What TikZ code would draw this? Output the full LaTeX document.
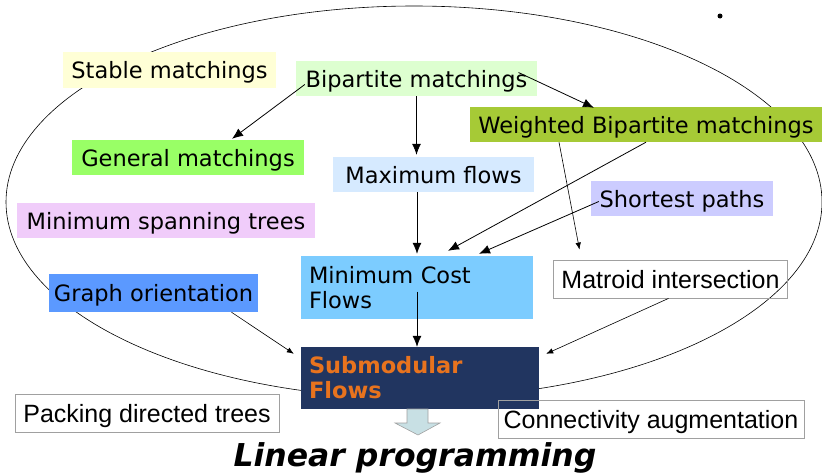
\documentclass[tikz,border=0pt]{standalone}
\usepackage{fontspec}
\setmainfont{DejaVu Sans}
\newfontfamily\arialfont{Liberation Sans}
\usetikzlibrary{arrows.meta}

\definecolor{stablecol}{RGB}{255,255,214}
\definecolor{bipcol}{RGB}{221,255,208}
\definecolor{wbipcol}{RGB}{166,202,54}
\definecolor{gencol}{RGB}{153,255,102}
\definecolor{maxfcol}{RGB}{214,234,255}
\definecolor{shortcol}{RGB}{204,204,255}
\definecolor{mstcol}{RGB}{240,204,250}
\definecolor{mincostcol}{RGB}{124,204,255}
\definecolor{orientcol}{RGB}{91,153,255}
\definecolor{submodcol}{RGB}{33,53,96}
\definecolor{submodtext}{RGB}{232,115,30}
\definecolor{framegray}{RGB}{160,160,160}
\definecolor{lparrowcol}{RGB}{200,224,228}

\begin{document}
\begin{tikzpicture}[x=1pt,y=-1pt,
		twoline/.style={inner sep=0pt, font=\fontsize{22.5}{27}\selectfont},
		box/.style={twoline, text depth=0pt},
		plainbox/.style={inner sep=0pt, text depth=0pt, draw=framegray, line width=0.8pt, font=\arialfont\fontsize{25}{30}\selectfont},
		big/.style={-{Latex[length=11pt,width=9pt]}, line width=0.8pt},
		small/.style={-{Latex[length=7pt,width=5.5pt]}, line width=0.6pt}]
		
		\useasboundingbox (0,0) rectangle (822,472);
		
		% Draw big ellipse
		\draw[line width=0.6pt] (414,202) ellipse [x radius=408, y radius=196];
		\fill (720,16) circle (2.5pt);
		
		% Matching problems
		\node[box, fill=stablecol, minimum width=213pt, minimum height=36pt] (stable) at (169.5,70) {Stable matchings};
		\node[box, fill=bipcol, minimum width=241pt, minimum height=35pt] (bip) at (416.5,78.5) {Bipartite matchings};
		\node[box, fill=wbipcol, minimum width=352pt, minimum height=35pt] (wbip) at (646,124.5) {Weighted Bipartite matchings};
		\node[box, fill=gencol, minimum width=232pt, minimum height=35pt] (gen) at (188,157.5) {General matchings};
		
		% Flow and path problems
		\node[box, fill=maxfcol, minimum width=201pt, minimum height=35pt] (maxf) at (433.5,174.5) {Maximum flows};
		\node[box, fill=shortcol, minimum width=182pt, minimum height=35pt] (short) at (682,198.5) {Shortest paths};
		\node[box, fill=mstcol, minimum width=298pt, minimum height=35pt] (mst) at (166,220.5) {Minimum spanning trees};
		\node[twoline, fill=mincostcol, minimum width=232pt, minimum height=63pt, text width=216pt, align=left, inner xsep=8pt] (mincost) at (417,287.5) {Minimum Cost\\[-2pt]Flows};
		\node[plainbox, minimum width=234pt, minimum height=38pt] (matroid) at (670.5,279) {Matroid intersection};
		\node[box, fill=orientcol, minimum width=209pt, minimum height=38pt] (orient) at (153.5,293) {Graph orientation};
		
		% Submodular flows
		\node[twoline, fill=submodcol, text=submodtext, font=\bfseries\fontsize{22.5}{27}\selectfont, minimum width=238pt, minimum height=62pt, text width=222pt, align=left, inner xsep=8pt] (submod) at (420,378) {Submodular\\[-2pt]Flows};
		\node[plainbox, minimum width=264pt, minimum height=38pt] (packing) at (147,413) {Packing directed trees};
		\node[plainbox, minimum width=306pt, minimum height=38pt] (conn) at (651,419) {Connectivity augmentation};
		
		% Draw block arrow to LP
		\filldraw[fill=lparrowcol, draw=framegray, line width=0.6pt] (407,409) -- (428,409) -- (428,423) -- (440,423) -- (418,435) -- (395,423) -- (407,423) -- cycle;
		\node[anchor=base, font=\bfseries\itshape\fontsize{31.5}{36}\selectfont] (lp) at (415,466) {Linear programming};
		
		% Draw connection lines
		\draw[big] ([xshift=9pt,yshift=-6pt]bip.west) -- ([xshift=44pt,yshift=1pt]gen.north);
		\draw[big] (bip.south) -- ([yshift=2pt]bip.south |- maxf.north);
		\draw[big] ([xshift=102pt,yshift=6pt]bip.center) -- ([xshift=-52pt,yshift=-1pt]wbip.north);
		\draw[big] (maxf.south -| mincost.north) -- ([yshift=2pt]mincost.north);
		\draw[big] (wbip.south) -- ([xshift=31pt,yshift=5pt]mincost.north);
		\draw[big] ([xshift=8pt,yshift=-3pt]short.west) -- ([xshift=62pt,yshift=2pt]mincost.north);
		\draw[small] ([xshift=-87pt]wbip.south) -- ([xshift=-91pt,yshift=10pt]matroid.north);
		\draw[big] ([yshift=-4pt]mincost.center) -- (mincost.center |- submod.north);
		\draw[small] ([xshift=78pt]orient.south) -- ([xshift=-7pt,yshift=-7pt]submod.north west);
		\draw[small] ([xshift=-2pt]matroid.south) -- ([xshift=7pt,yshift=-7pt]submod.north east);
		
\end{tikzpicture}
\end{document}
